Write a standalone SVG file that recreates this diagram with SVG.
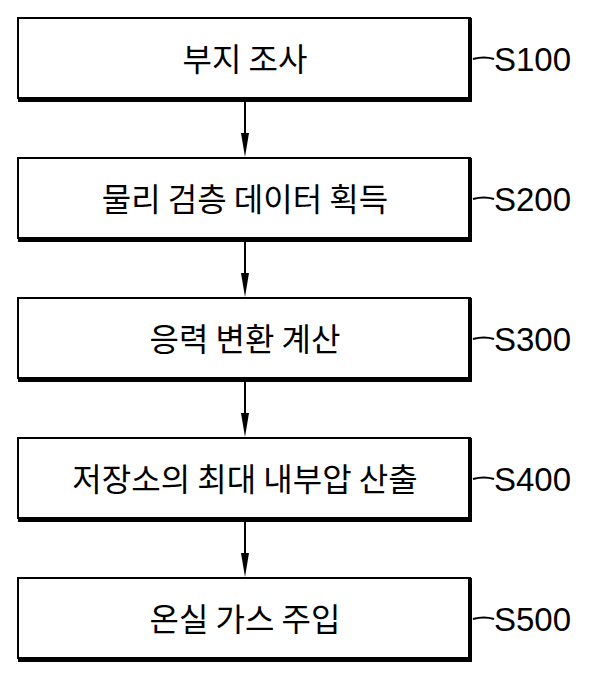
<svg xmlns="http://www.w3.org/2000/svg" width="600" height="674" viewBox="0 0 600 674">
<style>
.b{fill:#fff;stroke:#000;stroke-width:2}
.s{fill:none;stroke:#000;stroke-width:4}
.t{font-family:"Noto Sans CJK KR","Noto Sans",sans-serif;font-size:32px;text-anchor:middle;dominant-baseline:central}
.l{font-family:"Liberation Sans",Arial,sans-serif;font-size:33px;dominant-baseline:central}
.c{fill:none;stroke:#000;stroke-width:2}
.h{fill:#000}
</style>
<defs><path id="ah" d="M-4,-24 L4,-24 L0,0 Z"/></defs>
<g id="connectors">
<line class="c" x1="245" y1="99" x2="245" y2="140"/><use href="#ah" class="h" x="245" y="157"/>
<line class="c" x1="245" y1="239" x2="245" y2="280"/><use href="#ah" class="h" x="245" y="297"/>
<line class="c" x1="245" y1="379" x2="245" y2="420"/><use href="#ah" class="h" x="245" y="437"/>
<line class="c" x1="245" y1="519" x2="245" y2="560"/><use href="#ah" class="h" x="245" y="577"/>
<path class="c" d="M473,59 Q484,56 494,59 M473,199 Q484,196 494,199 M473,339 Q484,336 494,339 M473,479 Q484,476 494,479 M473,619 Q484,616 494,619"/>
</g>
<g id="n1"><rect class="b" x="18" y="18" width="452" height="80"/><path class="s" d="M470,18 V100 H18"/><text class="t" x="245" y="57">부지 조사</text><text class="l" x="494" y="59">S100</text></g>
<g id="n2"><rect class="b" x="18" y="158" width="452" height="80"/><path class="s" d="M470,158 V240 H18"/><text class="t" x="245" y="197">물리 검층 데이터 획득</text><text class="l" x="494" y="199">S200</text></g>
<g id="n3"><rect class="b" x="18" y="298" width="452" height="80"/><path class="s" d="M470,298 V380 H18"/><text class="t" x="245" y="337">응력 변환 계산</text><text class="l" x="494" y="339">S300</text></g>
<g id="n4"><rect class="b" x="18" y="438" width="452" height="80"/><path class="s" d="M470,438 V520 H18"/><text class="t" x="245" y="477">저장소의 최대 내부압 산출</text><text class="l" x="494" y="479">S400</text></g>
<g id="n5"><rect class="b" x="18" y="578" width="452" height="80"/><path class="s" d="M470,578 V660 H18"/><text class="t" x="245" y="617">온실 가스 주입</text><text class="l" x="494" y="619">S500</text></g>
</svg>
